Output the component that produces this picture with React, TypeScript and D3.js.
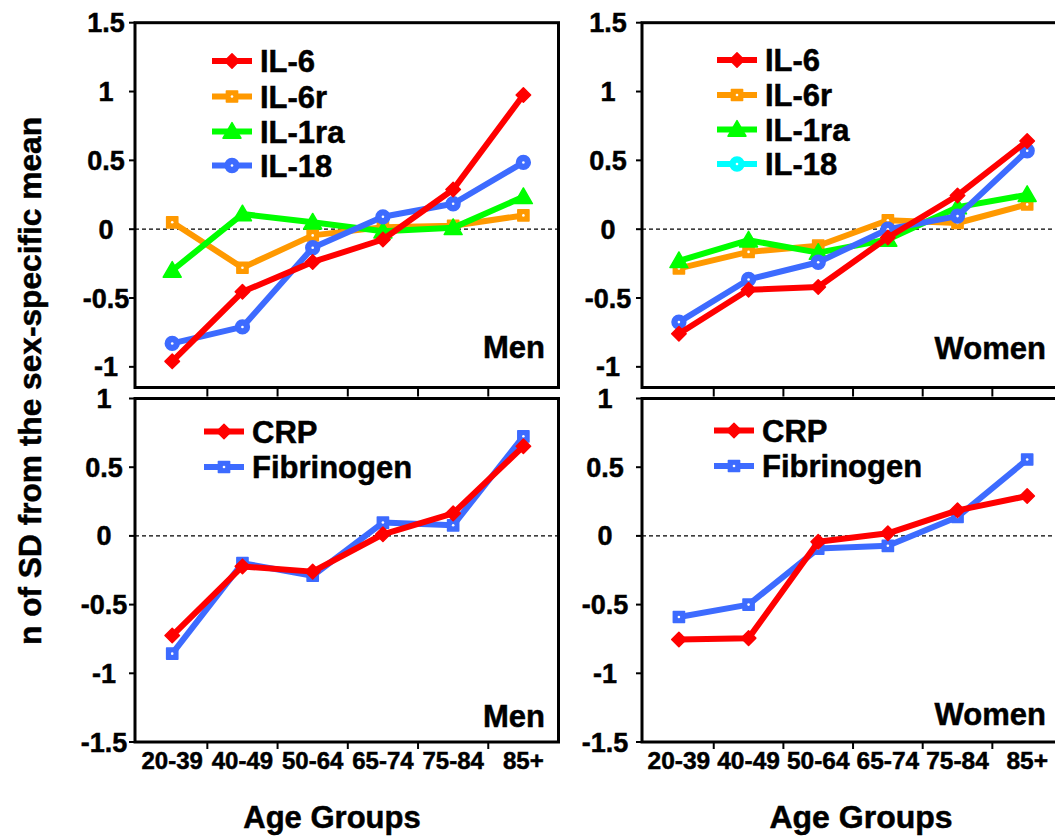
import * as d3 from "d3";

// categories and tick values
const ageGroups = ["20-39", "40-49", "50-64", "65-74", "75-84", "85+"];
const topTicks = [1.5, 1, 0.5, 0, -0.5, -1];
const bottomTicks = [1, 0.5, 0, -0.5, -1, -1.5];

// Men, interleukins
const menIL6 = [-0.96, -0.455, -0.238, -0.075, 0.288, 0.975];
const menIL6r = [0.05, -0.28, -0.045, 0.015, 0.025, 0.1];
const menIL1ra = [-0.3, 0.11, 0.05, -0.015, 0.01, 0.235];
const menIL18 = [-0.83, -0.71, -0.135, 0.09, 0.185, 0.485];

// Women, interleukins
const womenIL6 = [-0.76, -0.44, -0.42, -0.06, 0.245, 0.64];
const womenIL6r = [-0.285, -0.165, -0.12, 0.065, 0.045, 0.18];
const womenIL1ra = [-0.23, -0.08, -0.17, -0.075, 0.16, 0.25];
const womenIL18 = [-0.675, -0.365, -0.24, 0.0, 0.095, 0.57];

// CRP / fibrinogen
const menCRP = [-0.725, -0.222, -0.26, 0.012, 0.164, 0.652];
const menFib = [-0.857, -0.198, -0.29, 0.097, 0.077, 0.725];
const womenCRP = [-0.754, -0.744, -0.043, 0.019, 0.186, 0.29];
const womenFib = [-0.59, -0.5, -0.092, -0.072, 0.138, 0.556];

const FONT = "'Liberation Sans', Arial, Helvetica, sans-serif";
const RED = "#ff0000";
const ORANGE = "#ff9900";
const GREEN = "#00ff00";
const BLUE = "#3d6bff";
const CYAN = "#00ffff";

type Marker = "diamond" | "square" | "triangle" | "circle";
interface Series {
  name: string;
  values: number[];
  color: string;
  marker: Marker;
  legendColor?: string;
}

const legendOrder = ["IL-6", "IL-6r", "IL-1ra", "IL-18", "CRP", "Fibrinogen"];

function markerPath(kind: Marker) {
  if (kind === "diamond") return d3.symbol().type(d3.symbolSquare).size(105)()!;
  if (kind === "square") return d3.symbol().type(d3.symbolSquare).size(125)()!;
  if (kind === "triangle") return d3.symbol().type(d3.symbolTriangle).size(140)()!;
  return d3.symbol().type(d3.symbolCircle).size(150)()!;
}

function MarkerShape({ kind, color, x, y }: { kind: Marker; color: string; x: number; y: number }) {
  const rot = kind === "diamond" ? " rotate(45)" : "";
  const dy = kind === "triangle" ? 1.5 : 0;
  return (
    <g transform={`translate(${x},${y + dy})${rot}`}>
      <path d={markerPath(kind)} fill={color} stroke={color} strokeWidth={1.5} strokeLinejoin="round" />
      {(kind === "square" || kind === "circle") && <circle r={1.3} fill="#fff" />}
    </g>
  );
}

// bold text with a thin outline so it reads as heavy as the original
const txt = { fontFamily: FONT, fontWeight: "bold" as const, stroke: "#000", strokeWidth: 0.5 };

interface PanelProps {
  x0: number;
  x1: number;
  y0: number;
  y1: number;
  yDomain: [number, number];
  yTicks: number[];
  series: Series[];
  legendX: number;
  legendY: number[];
  caption: string;
  captionRight: number;
  captionBase: number;
  tickLabelX: number;
  xTickLen: number;
  showXLabels: boolean;
  xLabelSize: number;
}

function Panel(p: PanelProps) {
  const x = d3.scaleLinear().domain([-0.53, 5.5]).range([p.x0, p.x1]);
  const y = d3.scaleLinear().domain(p.yDomain).range([p.y1, p.y0]);
  const line = d3
    .line<number>()
    .x((_, i) => x(i))
    .y((d) => y(d));
  const boundaries = d3.range(0.5, 5, 1);
  return (
    <g>
      <line x1={p.x0} x2={p.x1} y1={y(0)} y2={y(0)} stroke="#000" strokeWidth={1.3} strokeDasharray="4,3" />
      {p.yTicks.map((t) => (
        <g key={t}>
          <line x1={p.x0 - 6} x2={p.x0} y1={y(t)} y2={y(t)} stroke="#000" strokeWidth={2} />
          <text x={p.tickLabelX} y={y(t) + 9.5} textAnchor="middle" fontSize={27} {...txt}>
            {t}
          </text>
        </g>
      ))}
      {boundaries.map((b) => (
        <line key={b} x1={x(b)} x2={x(b)} y1={p.y1} y2={p.y1 + p.xTickLen} stroke="#000" strokeWidth={2} />
      ))}
      {p.showXLabels &&
        ageGroups.map((g, i) => (
          <text key={g} x={x(i)} y={769} textAnchor="middle" fontSize={p.xLabelSize} {...txt}>
            {g}
          </text>
        ))}
      {p.series.map((s) => (
        <g key={s.name}>
          <path d={line(s.values)!} fill="none" stroke={s.color} strokeWidth={6} strokeLinejoin="round" />
          {s.values.map((v, i) => (
            <MarkerShape key={i} kind={s.marker} color={s.color} x={x(i)} y={y(v)} />
          ))}
        </g>
      ))}
      {[...p.series]
        .sort((a, b) => legendOrder.indexOf(a.name) - legendOrder.indexOf(b.name))
        .map((s, i) => {
          const ly = p.legendY[i];
          const c = s.legendColor ?? s.color;
          return (
            <g key={s.name}>
              <line x1={p.legendX} x2={p.legendX + 40} y1={ly} y2={ly} stroke={c} strokeWidth={6} />
              <MarkerShape kind={s.marker} color={c} x={p.legendX + 20} y={ly} />
              <text x={p.legendX + 48} y={ly + 11} fontSize={31} {...txt}>
                {s.name}
              </text>
            </g>
          );
        })}
      <text x={p.captionRight} y={p.captionBase} textAnchor="end" fontSize={31} {...txt}>
        {p.caption}
      </text>
      <rect x={p.x0} y={p.y0} width={p.x1 - p.x0} height={p.y1 - p.y0} fill="none" stroke="#000" strokeWidth={3} />
    </g>
  );
}

export default function App() {
  const topY: [number, number] = [-1.15, 1.5];
  const botY: [number, number] = [-1.5, 1];
  const menTop: Series[] = [
    { name: "IL-6r", values: menIL6r, color: ORANGE, marker: "square" },
    { name: "IL-1ra", values: menIL1ra, color: GREEN, marker: "triangle" },
    { name: "IL-18", values: menIL18, color: BLUE, marker: "circle" },
    { name: "IL-6", values: menIL6, color: RED, marker: "diamond" },
  ];
  const womenTop: Series[] = [
    { name: "IL-6r", values: womenIL6r, color: ORANGE, marker: "square" },
    { name: "IL-1ra", values: womenIL1ra, color: GREEN, marker: "triangle" },
    { name: "IL-18", values: womenIL18, color: BLUE, marker: "circle", legendColor: CYAN },
    { name: "IL-6", values: womenIL6, color: RED, marker: "diamond" },
  ];
  const menBot: Series[] = [
    { name: "Fibrinogen", values: menFib, color: BLUE, marker: "square" },
    { name: "CRP", values: menCRP, color: RED, marker: "diamond" },
  ];
  const womenBot: Series[] = [
    { name: "Fibrinogen", values: womenFib, color: BLUE, marker: "square" },
    { name: "CRP", values: womenCRP, color: RED, marker: "diamond" },
  ];

  return (
    <svg width={1055} height={838} style={{ position: "absolute", left: 0, top: 0, background: "#fff" }}>
      <rect width={1055} height={838} fill="#fff" />
      <Panel
        x0={135} x1={558.5} y0={22.7} y1={387.5} yDomain={topY} yTicks={topTicks}
        series={menTop} legendX={212} legendY={[61, 96.5, 131.5, 165.5]}
        caption="Men" captionRight={545} captionBase={358}
        tickLabelX={106} xTickLen={9} showXLabels={false} xLabelSize={24}
      />
      <Panel
        x0={642} x1={1062} y0={22.7} y1={387.5} yDomain={topY} yTicks={topTicks}
        series={womenTop} legendX={717} legendY={[60, 95, 129.5, 164]}
        caption="Women" captionRight={1046} captionBase={359}
        tickLabelX={608} xTickLen={9} showXLabels={false} xLabelSize={24}
      />
      <Panel
        x0={135} x1={558.5} y0={398.5} y1={742} yDomain={botY} yTicks={bottomTicks}
        series={menBot} legendX={204} legendY={[431.5, 467]}
        caption="Men" captionRight={545} captionBase={727}
        tickLabelX={104} xTickLen={7} showXLabels={true} xLabelSize={24}
      />
      <Panel
        x0={642} x1={1062} y0={398.5} y1={742} yDomain={botY} yTicks={bottomTicks}
        series={womenBot} legendX={714} legendY={[430.5, 466]}
        caption="Women" captionRight={1046} captionBase={725}
        tickLabelX={605} xTickLen={7} showXLabels={true} xLabelSize={24.5}
      />
      <text x={332} y={828} textAnchor="middle" fontSize={31} {...txt}>
        Age Groups
      </text>
      <text x={861} y={828} textAnchor="middle" fontSize={32} {...txt}>
        Age Groups
      </text>
      <text
        transform="translate(41,381) rotate(-90)"
        textAnchor="middle"
        fontSize={31}
        textLength={528}
        lengthAdjust="spacingAndGlyphs"
        {...txt}
      >
        n of SD from the sex-specific mean
      </text>
    </svg>
  );
}
